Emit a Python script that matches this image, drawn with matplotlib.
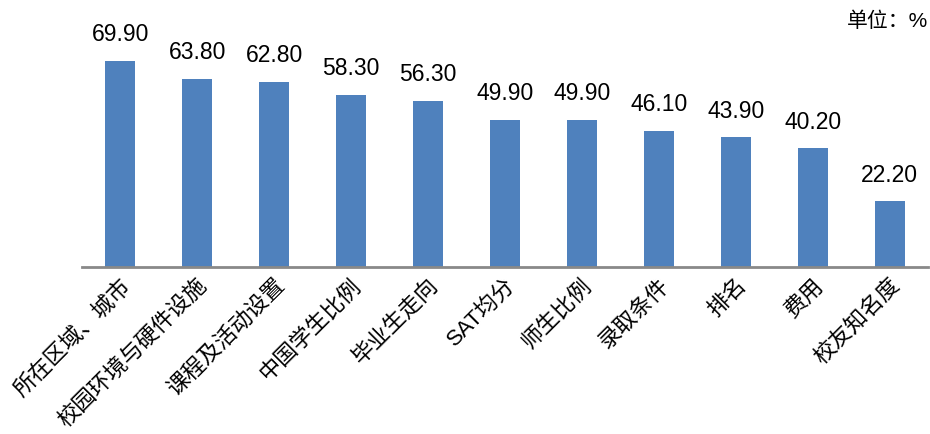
import matplotlib
matplotlib.use('Agg')
import matplotlib.pyplot as plt

plt.rcParams['font.family'] = ['Liberation Sans', 'Noto Sans CJK SC']

categories = ['所在区域、城市', '校园环境与硬件设施', '课程及活动设置', '中国学生比例', '毕业生走向',
              'SAT均分', '师生比例', '录取条件', '排名', '费用', '校友知名度']
values = [69.90, 63.80, 62.80, 58.30, 56.30, 49.90, 49.90, 46.10, 43.90, 40.20, 22.20]

fig = plt.figure(figsize=(9.3, 4.34), dpi=100)
ax = fig.add_axes([0.088, 0.385, 0.91, 0.5435])

x = range(len(categories))
bars = ax.bar(x, values, width=0.39, color='#4F81BD', zorder=2)
for xi, v in zip(x, values):
    ax.text(xi, v + 5, f'{v:.2f}', ha='center', va='bottom', fontsize=16.5, clip_on=False)

ax.set_xlim(-0.5, len(categories) - 0.5)
ax.set_ylim(0, 80)
ax.set_yticks([])
ax.set_xticks(list(x))
ax.set_xticklabels(categories, rotation=45, ha='right', rotation_mode='anchor', fontsize=16)
ax.tick_params(axis='x', length=0, pad=6)
for side in ['top', 'right', 'left']:
    ax.spines[side].set_visible(False)
ax.spines['bottom'].set_color('#898989')
ax.spines['bottom'].set_linewidth(2)

fig.text(0.998, 0.952, '单位：%', ha='right', va='center', fontsize=15)

fig.savefig('out.png', dpi=100)
